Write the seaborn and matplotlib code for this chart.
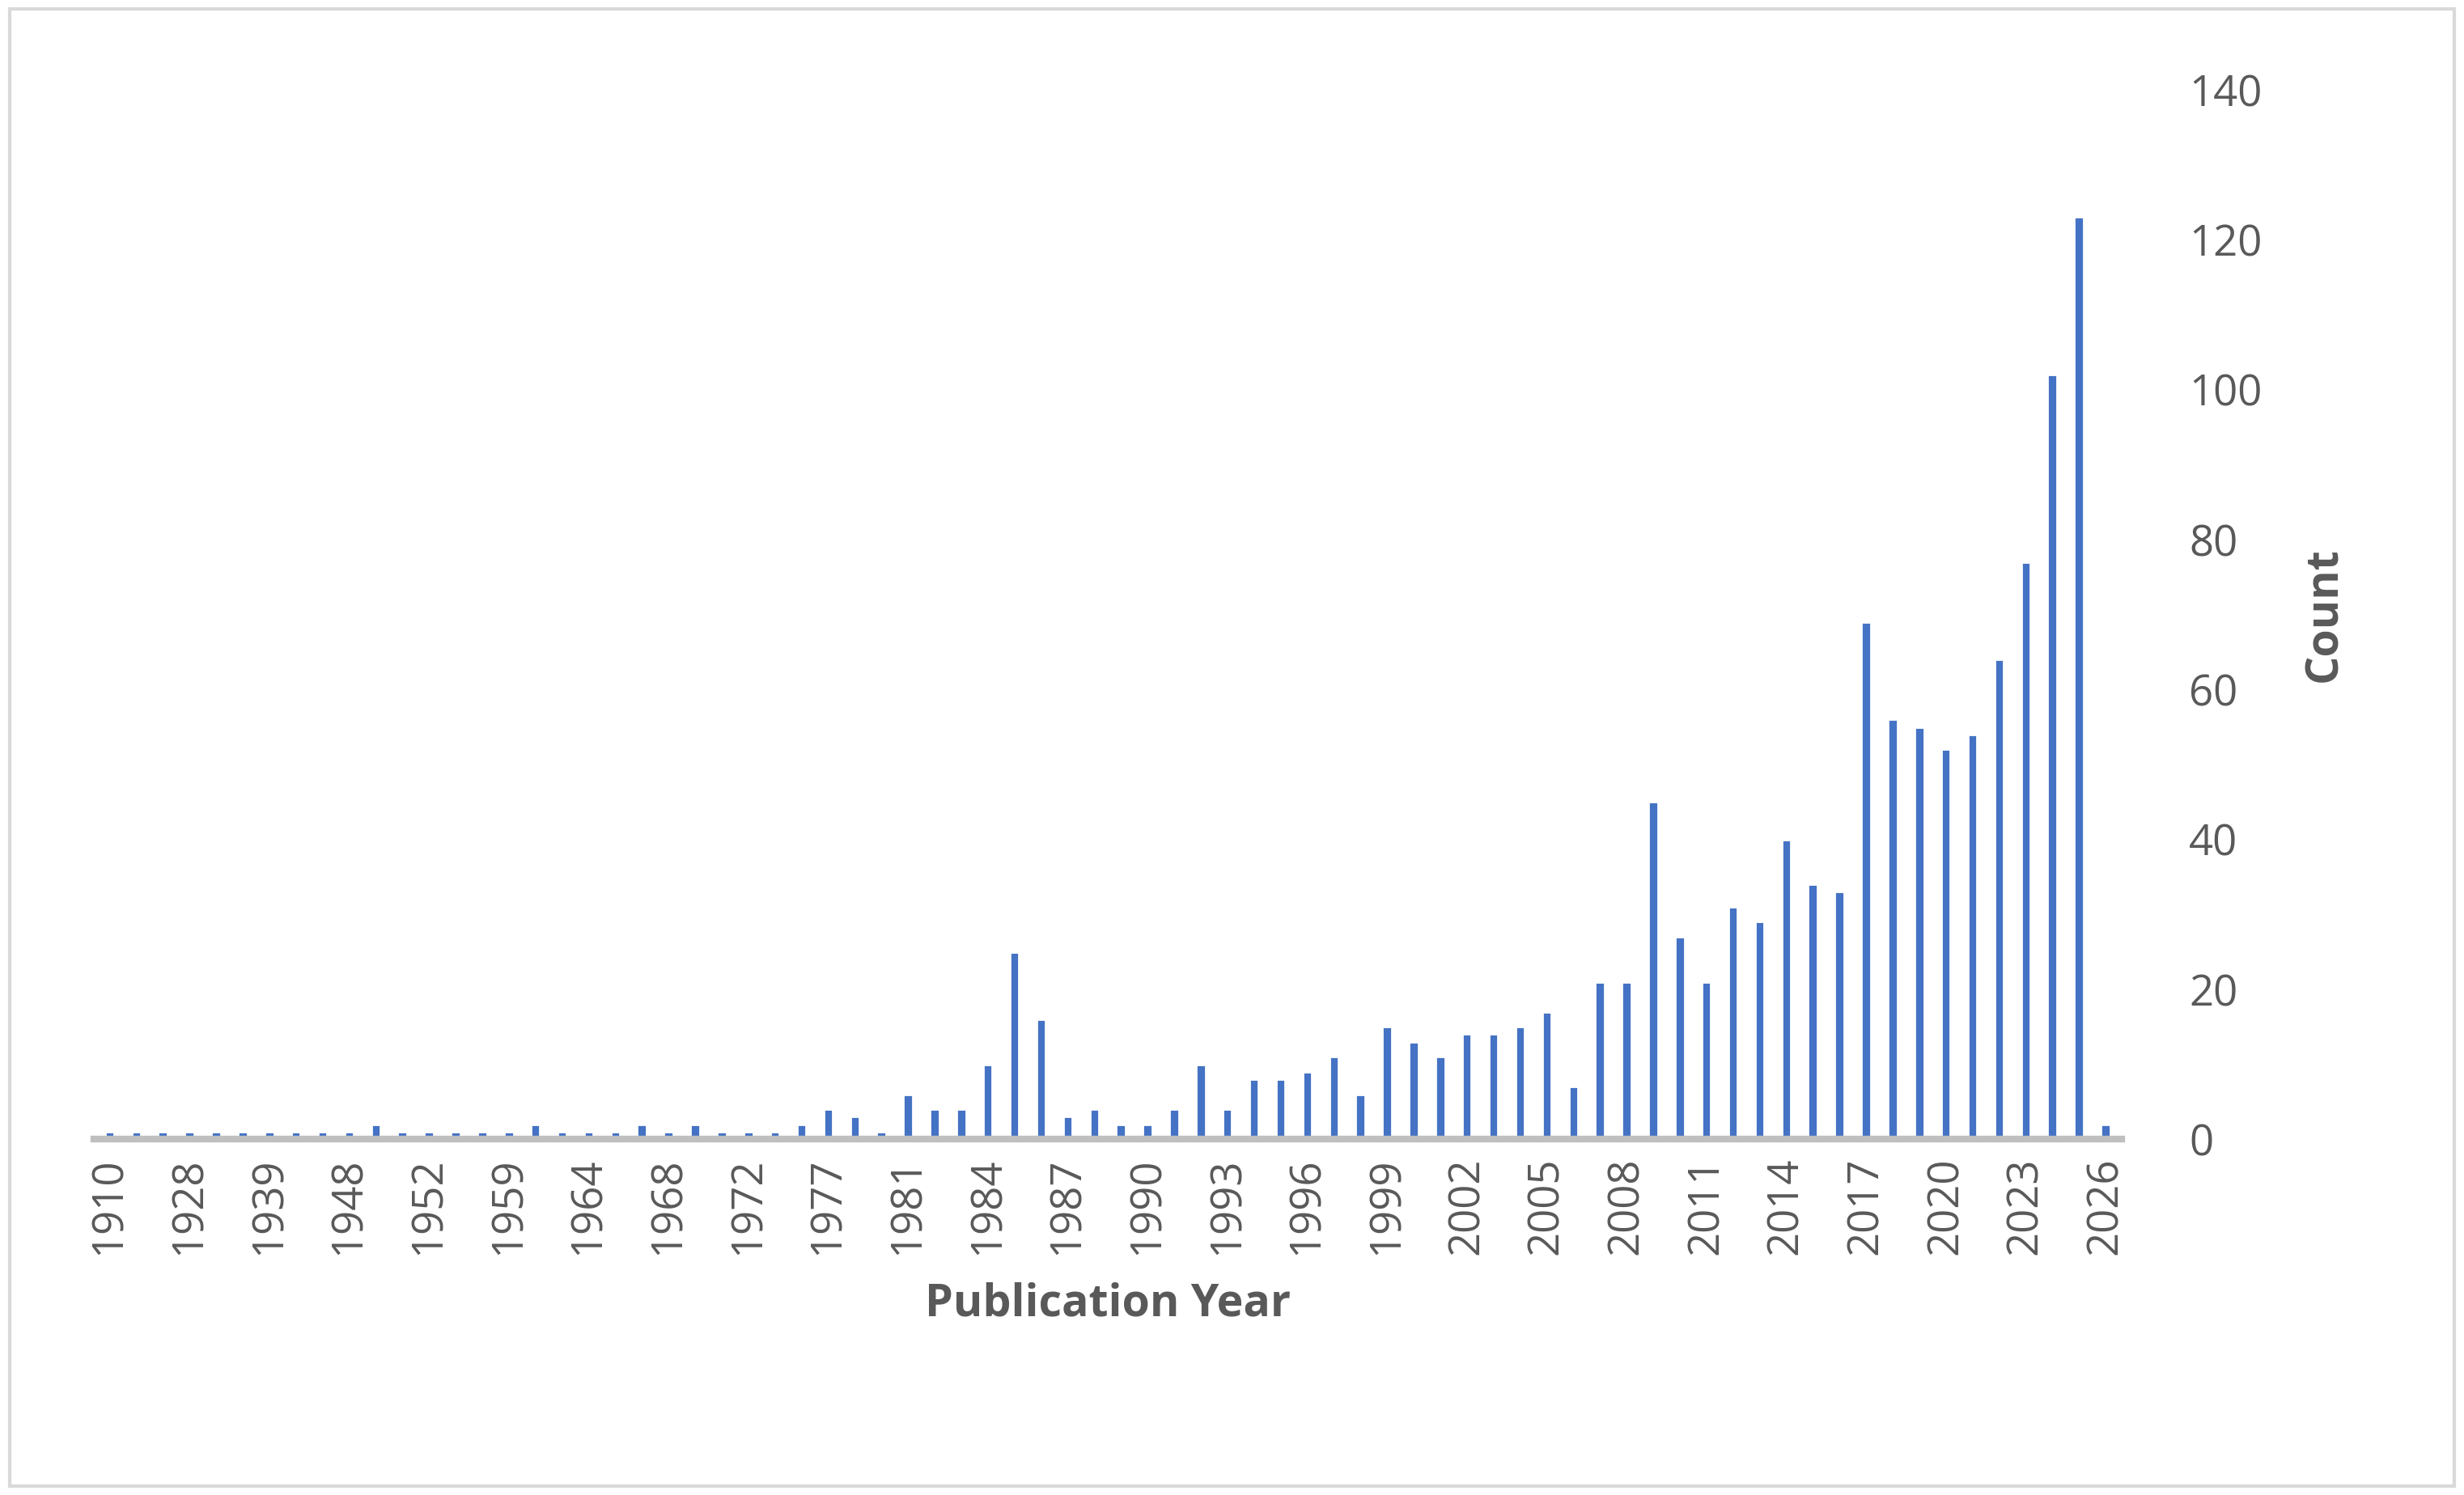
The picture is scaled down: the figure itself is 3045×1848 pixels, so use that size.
import numpy as np
import pandas as pd
import matplotlib
matplotlib.use('Agg')
import matplotlib.pyplot as plt
import seaborn as sns

sns.set_style('white')
plt.rcParams['font.family'] = ['Open Sans', 'DejaVu Sans']

early_years = [1910, 1913, 1925, 1928, 1930, 1936, 1939, 1940, 1946, 1948,
               1949, 1950, 1952, 1955, 1957, 1959, 1960, 1961, 1964, 1965,
               1966, 1968, 1969, 1970, 1972, 1974, 1975, 1977, 1979, 1980]
early_counts = [1, 1, 1, 1, 1, 1, 1, 1, 1, 1,
                2, 1, 1, 1, 1, 1, 2, 1, 1, 1,
                2, 1, 2, 1, 1, 1, 2, 4, 3, 1]
late_years = list(range(1981, 2027))
late_counts = [6, 4, 4, 10, 25, 16, 3, 4, 2, 2,
               4, 10, 4, 8, 8, 9, 11, 6, 15, 13,
               11, 14, 14, 15, 17, 7, 21, 21, 45, 27,
               21, 31, 29, 40, 34, 33, 69, 56, 55, 52,
               54, 64, 77, 102, 123, 2]

years = early_years + late_years
counts = early_counts + late_counts
df = pd.DataFrame({'year': [str(y) for y in years], 'count': counts})

fig = plt.figure(figsize=(15.225, 9.24), dpi=200)
ax = fig.add_axes([0.038, 0.238, 0.823, 0.702])
sns.barplot(data=df, x='year', y='count', color='#4472C4', width=0.35,
            saturation=1, ax=ax)

ax.set_ylim(0, 140)
ax.set_yticks(range(0, 141, 20))
ax.yaxis.tick_right()
ax.yaxis.set_label_position('right')
ax.set_ylabel('Count', fontsize=20, fontweight='bold', color='#595959', labelpad=18)
ax.set_xlabel('Publication Year', fontsize=20, fontweight='bold', color='#595959', labelpad=12)
ax.set_xlim(-0.6, len(years) - 0.4)

idx = list(range(0, len(years), 3))
ax.set_xticks(idx)
ax.set_xticklabels([df['year'][i] for i in idx], rotation=90)
ax.tick_params(axis='x', labelsize=19, colors='#595959', length=0, pad=8)
ax.tick_params(axis='y', labelsize=19, colors='#595959', length=0, pad=30)

for s in ['top', 'left', 'right']:
    ax.spines[s].set_visible(False)
ax.spines['bottom'].set_color('#BFBFBF')
ax.spines['bottom'].set_linewidth(3)

fig.patches.append(plt.Rectangle((0.004, 0.006), 0.992, 0.988, transform=fig.transFigure,
                                 fill=False, edgecolor='#D9D9D9', linewidth=1.5))
fig.savefig('out.png', dpi=200)
